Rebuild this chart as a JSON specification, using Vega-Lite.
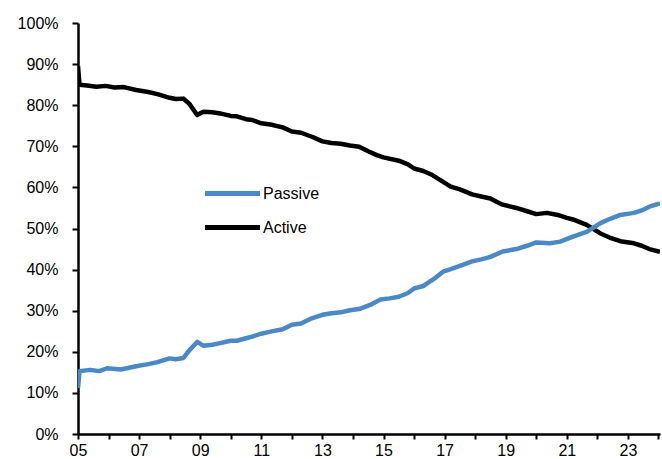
{
  "$schema": "https://vega.github.io/schema/vega-lite/v6.json",
  "width": 582,
  "height": 411,
  "autosize": {"type": "none"},
  "padding": {"left": 78, "top": 23, "right": 2, "bottom": 25},
  "config": {
    "view": {"stroke": null},
    "font": "Liberation Sans",
    "axis": {"labelFont": "Liberation Sans", "labelFontSize": 16, "labelColor": "#000000", "domainColor": "#000000", "domainWidth": 2.5, "tickColor": "#000000", "tickWidth": 2, "grid": false, "title": null}
  },
  "datasets": {
    "series": [
      {"t": 5.00, "s": "Active", "v": 0.895},
      {"t": 5.05, "s": "Active", "v": 0.850},
      {"t": 5.3, "s": "Active", "v": 0.848},
      {"t": 5.6, "s": "Active", "v": 0.845},
      {"t": 5.9, "s": "Active", "v": 0.847},
      {"t": 6.2, "s": "Active", "v": 0.843},
      {"t": 6.5, "s": "Active", "v": 0.844},
      {"t": 6.9, "s": "Active", "v": 0.837},
      {"t": 7.3, "s": "Active", "v": 0.832},
      {"t": 7.6, "s": "Active", "v": 0.827},
      {"t": 8.0, "s": "Active", "v": 0.818},
      {"t": 8.2, "s": "Active", "v": 0.815},
      {"t": 8.45, "s": "Active", "v": 0.816},
      {"t": 8.65, "s": "Active", "v": 0.803},
      {"t": 8.9, "s": "Active", "v": 0.776},
      {"t": 9.1, "s": "Active", "v": 0.784},
      {"t": 9.4, "s": "Active", "v": 0.783},
      {"t": 9.65, "s": "Active", "v": 0.780},
      {"t": 10.0, "s": "Active", "v": 0.774},
      {"t": 10.2, "s": "Active", "v": 0.773},
      {"t": 10.5, "s": "Active", "v": 0.766},
      {"t": 10.7, "s": "Active", "v": 0.764},
      {"t": 11.0, "s": "Active", "v": 0.756},
      {"t": 11.3, "s": "Active", "v": 0.753},
      {"t": 11.7, "s": "Active", "v": 0.746},
      {"t": 12.0, "s": "Active", "v": 0.736},
      {"t": 12.3, "s": "Active", "v": 0.733},
      {"t": 12.7, "s": "Active", "v": 0.722},
      {"t": 13.0, "s": "Active", "v": 0.712},
      {"t": 13.3, "s": "Active", "v": 0.708},
      {"t": 13.6, "s": "Active", "v": 0.706},
      {"t": 13.9, "s": "Active", "v": 0.702},
      {"t": 14.2, "s": "Active", "v": 0.699},
      {"t": 14.5, "s": "Active", "v": 0.688},
      {"t": 14.8, "s": "Active", "v": 0.678},
      {"t": 15.0, "s": "Active", "v": 0.673},
      {"t": 15.5, "s": "Active", "v": 0.665},
      {"t": 15.8, "s": "Active", "v": 0.656},
      {"t": 16.0, "s": "Active", "v": 0.646},
      {"t": 16.3, "s": "Active", "v": 0.640},
      {"t": 16.6, "s": "Active", "v": 0.630},
      {"t": 16.9, "s": "Active", "v": 0.616},
      {"t": 17.2, "s": "Active", "v": 0.602},
      {"t": 17.5, "s": "Active", "v": 0.595},
      {"t": 17.9, "s": "Active", "v": 0.583},
      {"t": 18.2, "s": "Active", "v": 0.578},
      {"t": 18.5, "s": "Active", "v": 0.573},
      {"t": 18.7, "s": "Active", "v": 0.565},
      {"t": 18.9, "s": "Active", "v": 0.558},
      {"t": 19.35, "s": "Active", "v": 0.550},
      {"t": 19.7, "s": "Active", "v": 0.542},
      {"t": 20.0, "s": "Active", "v": 0.535},
      {"t": 20.35, "s": "Active", "v": 0.538},
      {"t": 20.7, "s": "Active", "v": 0.533},
      {"t": 21.0, "s": "Active", "v": 0.526},
      {"t": 21.2, "s": "Active", "v": 0.522},
      {"t": 21.65, "s": "Active", "v": 0.509},
      {"t": 22.1, "s": "Active", "v": 0.488},
      {"t": 22.4, "s": "Active", "v": 0.478},
      {"t": 22.75, "s": "Active", "v": 0.469},
      {"t": 23.2, "s": "Active", "v": 0.464},
      {"t": 23.45, "s": "Active", "v": 0.458},
      {"t": 23.7, "s": "Active", "v": 0.450},
      {"t": 24.05, "s": "Active", "v": 0.443},
      {"t": 5.00, "s": "Passive", "v": 0.112},
      {"t": 5.05, "s": "Passive", "v": 0.153},
      {"t": 5.4, "s": "Passive", "v": 0.156},
      {"t": 5.7, "s": "Passive", "v": 0.153},
      {"t": 5.95, "s": "Passive", "v": 0.160},
      {"t": 6.4, "s": "Passive", "v": 0.157},
      {"t": 6.9, "s": "Passive", "v": 0.165},
      {"t": 7.3, "s": "Passive", "v": 0.170},
      {"t": 7.6, "s": "Passive", "v": 0.175},
      {"t": 8.0, "s": "Passive", "v": 0.184},
      {"t": 8.2, "s": "Passive", "v": 0.182},
      {"t": 8.45, "s": "Passive", "v": 0.185},
      {"t": 8.65, "s": "Passive", "v": 0.204},
      {"t": 8.9, "s": "Passive", "v": 0.224},
      {"t": 9.1, "s": "Passive", "v": 0.215},
      {"t": 9.4, "s": "Passive", "v": 0.217},
      {"t": 9.65, "s": "Passive", "v": 0.221},
      {"t": 10.0, "s": "Passive", "v": 0.227},
      {"t": 10.2, "s": "Passive", "v": 0.227},
      {"t": 10.5, "s": "Passive", "v": 0.233},
      {"t": 10.7, "s": "Passive", "v": 0.237},
      {"t": 11.0, "s": "Passive", "v": 0.244},
      {"t": 11.3, "s": "Passive", "v": 0.249},
      {"t": 11.7, "s": "Passive", "v": 0.255},
      {"t": 12.0, "s": "Passive", "v": 0.266},
      {"t": 12.3, "s": "Passive", "v": 0.269},
      {"t": 12.6, "s": "Passive", "v": 0.280},
      {"t": 13.0, "s": "Passive", "v": 0.290},
      {"t": 13.3, "s": "Passive", "v": 0.294},
      {"t": 13.6, "s": "Passive", "v": 0.296},
      {"t": 13.9, "s": "Passive", "v": 0.301},
      {"t": 14.2, "s": "Passive", "v": 0.304},
      {"t": 14.56, "s": "Passive", "v": 0.314},
      {"t": 14.9, "s": "Passive", "v": 0.327},
      {"t": 15.2, "s": "Passive", "v": 0.330},
      {"t": 15.5, "s": "Passive", "v": 0.334},
      {"t": 15.8, "s": "Passive", "v": 0.343},
      {"t": 16.0, "s": "Passive", "v": 0.354},
      {"t": 16.3, "s": "Passive", "v": 0.360},
      {"t": 16.5, "s": "Passive", "v": 0.370},
      {"t": 16.7, "s": "Passive", "v": 0.380},
      {"t": 16.95, "s": "Passive", "v": 0.395},
      {"t": 17.2, "s": "Passive", "v": 0.401},
      {"t": 17.5, "s": "Passive", "v": 0.409},
      {"t": 17.9, "s": "Passive", "v": 0.420},
      {"t": 18.2, "s": "Passive", "v": 0.425},
      {"t": 18.5, "s": "Passive", "v": 0.431},
      {"t": 18.9, "s": "Passive", "v": 0.444},
      {"t": 19.35, "s": "Passive", "v": 0.450},
      {"t": 19.7, "s": "Passive", "v": 0.458},
      {"t": 20.0, "s": "Passive", "v": 0.466},
      {"t": 20.45, "s": "Passive", "v": 0.464},
      {"t": 20.78, "s": "Passive", "v": 0.468},
      {"t": 21.2, "s": "Passive", "v": 0.480},
      {"t": 21.65, "s": "Passive", "v": 0.492},
      {"t": 22.1, "s": "Passive", "v": 0.513},
      {"t": 22.4, "s": "Passive", "v": 0.523},
      {"t": 22.75, "s": "Passive", "v": 0.533},
      {"t": 23.2, "s": "Passive", "v": 0.538},
      {"t": 23.45, "s": "Passive", "v": 0.544},
      {"t": 23.7, "s": "Passive", "v": 0.553},
      {"t": 24.05, "s": "Passive", "v": 0.561}
    ]
  },
  "data": {"name": "series"},
  "mark": {"type": "line", "strokeWidth": 4.5, "strokeJoin": "round", "clip": true},
  "encoding": {
    "x": {
      "field": "t", "type": "quantitative",
      "scale": {"domain": [5, 24.05], "nice": false, "zero": false},
      "axis": {
        "values": [5, 6, 7, 8, 9, 10, 11, 12, 13, 14, 15, 16, 17, 18, 19, 20, 21, 22, 23, 24],
        "format": "02d",
        "labelOverlap": "parity", "labelSeparation": 20,
        "tickSize": 5, "labelPadding": 3, "labelFlush": false
      }
    },
    "y": {
      "field": "v", "type": "quantitative",
      "scale": {"domain": [0, 1], "nice": false},
      "axis": {
        "values": [0, 0.1, 0.2, 0.3, 0.4, 0.5, 0.6, 0.7, 0.8, 0.9, 1],
        "format": ".0%",
        "tickSize": 6, "labelPadding": 14, "labelFlush": false, "labelOverlap": false
      }
    },
    "color": {
      "field": "s", "type": "nominal",
      "scale": {"domain": ["Passive", "Active"], "range": ["#4a89c5", "#000000"]},
      "legend": {
        "title": null, "orient": "none", "legendX": 141, "legendY": 157,
        "symbolType": "M-2.5,0H2.5", "symbolSize": 484, "symbolStrokeWidth": 5,
        "labelOffset": 17, "rowPadding": 10, "padding": 0,
        "labelFont": "Liberation Sans", "labelFontSize": 16, "labelColor": "#000000"
      }
    }
  }
}
